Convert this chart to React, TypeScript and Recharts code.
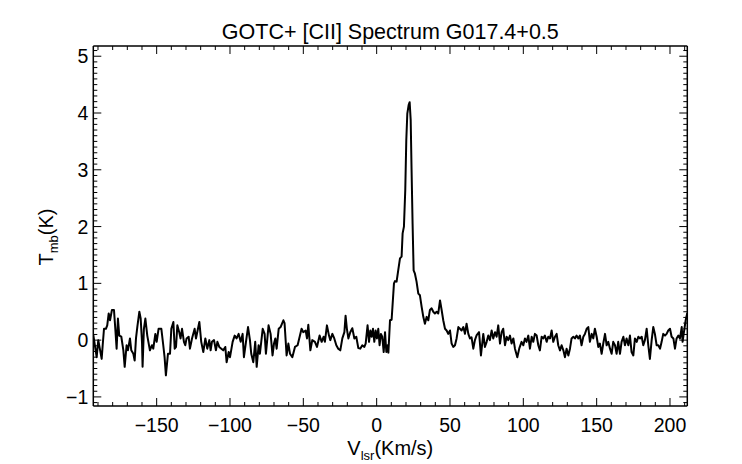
import { LineChart, Line, XAxis, YAxis, Label } from 'recharts'

// channel velocities (km/s) and main-beam temperatures (K)
const velocity = [
  // baseline, left
  -193.2, -190.9, -189.8, -187.5, -186.8, -185.9, -184.6, -183.7, -182.7, -181.8,
  -180.5, -179.1, -178.2, -177.3, -176.4, -175.5, -174.1, -172.7, -171.8, -170.5,
  -169.6, -168.2, -167.3, -165.9, -165.0, -164.1, -163.2, -161.8, -160.9, -160.0,
  -159.6, -158.7, -157.7, -156.4, -154.6, -153.2, -152.3, -150.9, -150.0, -148.7,
  -146.8, -145.5, -144.6, -143.7, -142.3, -140.9, -140.0, -138.6, -137.7, -136.8,
  -135.9, -134.6, -133.7, -132.7, -131.4, -130.5, -129.6, -128.2, -127.3, -125.9,
  -124.1, -123.2, -120.9, -119.6, -118.2, -116.8, -115.5, -114.1, -113.2, -112.3,
  -110.9, -109.6, -108.6, -107.3, -105.9, -104.6, -103.2, -102.3, -100.9, -100.0,
  -98.2, -96.8, -95.5, -94.1, -92.7, -91.4, -90.5, -89.1, -87.7, -86.4,
  -85.5, -84.1, -82.8, -81.8, -80.5, -79.6, -77.7, -76.4, -75.5, -73.7,
  -72.3, -71.0, -70.0, -69.1, -68.2, -66.8, -65.5, -63.6, -62.8,
  // baseline up to the line
  -61.4, -60.2, -59.1, -57.5, -55.7, -53.9, -52.3, -51.2, -50.0, -48.4,
  -47.5, -46.6, -45.2, -43.9, -42.1, -40.7, -38.9, -37.5, -36.2, -35.3,
  -33.9, -32.5, -31.6, -30.2, -28.9, -27.5, -26.2, -24.8, -23.4, -22.0,
  -21.2, -20.3, -19.3, -18.0, -16.6, -15.2, -13.9, -12.5, -11.2, -9.8,
  -8.4, -7.5, -6.2, -5.2, -4.3, -3.4, -2.5, -1.6, -0.7, 0.2,
  1.1, 2.0, 2.9, 3.8, 4.8, 5.7, 6.6, 7.5,
  // [CII] line and wing
  8.0, 9.1, 10.2, 11.8, 12.5, 13.6, 14.7, 15.9, 17.0, 17.7,
  18.6, 19.5, 20.2, 20.9, 21.8, 22.5, 23.2, 23.8, 24.5, 25.2,
  26.1, 27.2, 28.4, 29.5, 30.7, 31.8, 32.9, 34.1, 35.2, 36.3,
  37.5, 38.6, 39.7, 40.9, 42.0, 43.2, 44.3, 45.4, 46.6, 47.7,
  48.8, 50.0, 51.1, 52.2, 53.4, 54.5, 55.7, 56.8, 57.9, 59.1,
  60.2, 61.3, 62.5, 63.6, 64.7, 65.9, 67.0, 68.2,
  // baseline, right
  69.8, 71.1, 72.7, 73.8, 75.0, 76.1, 77.2, 78.4, 79.5, 80.7,
  81.8, 82.9, 84.1, 85.2, 86.3, 87.5, 88.6, 89.7, 90.9, 92.0,
  93.2, 94.3, 95.9, 97.2, 98.8, 100.0, 101.1, 102.2, 103.4, 104.5,
  105.7, 106.8, 107.9, 109.1, 110.2, 111.3, 112.5, 113.6, 114.7, 115.9,
  117.0, 118.2, 119.3, 120.4, 121.6, 122.7, 123.8, 125.0, 126.1, 127.3,
  128.4, 129.5, 130.7, 131.8, 132.9, 134.1, 135.2, 136.3, 137.5, 138.6,
  139.7, 140.9, 142.0, 143.2, 144.3, 145.4, 146.6, 147.7, 148.8, 150.0,
  151.1, 152.2, 153.4, 154.5, 155.7, 156.8, 157.9, 159.1, 160.2, 161.3,
  162.5, 163.6, 164.7, 165.9, 167.0, 168.2, 169.3, 170.4, 171.6, 172.7,
  173.8, 175.0, 176.1, 177.3, 178.4, 179.5, 180.7, 181.8, 182.9, 184.1,
  185.2, 186.3, 187.5, 188.6, 189.7, 190.9, 192.0, 193.2, 194.3, 195.4,
  196.6, 197.7, 198.8, 200.0, 201.1, 202.3, 203.4, 204.5, 205.7, 206.8,
  208.0, 208.6, 209.5, 210.7, 211.8,
]

const tmb = [
  0.09, -0.30, 0.0, -0.33, -0.09, 0.20, 0.20, 0.26, 0.47, 0.35,
  0.53, 0.53, 0.20, -0.15, 0.38, 0.08, 0.06, -0.18, -0.47, -0.09,
  -0.18, 0.03, -0.18, -0.24, -0.36, 0.03, 0.23, 0.50, 0.38, -0.03,
  -0.47, 0.20, 0.38, 0.08, -0.18, -0.09, -0.15, 0.11, -0.03, 0.20,
  0.20, -0.09, -0.30, -0.62, -0.24, -0.24, 0.20, 0.32, -0.15, -0.12,
  0.26, 0.14, 0.03, 0.20, -0.03, -0.09, 0.03, 0.06, -0.15, 0.03,
  0.20, 0.03, 0.32, -0.03, -0.21, 0.03, -0.15, 0.0, -0.18, -0.03,
  0.0, -0.18, -0.03, -0.12, -0.15, -0.18, -0.12, -0.39, -0.21, -0.30,
  -0.03, 0.08, 0.03, 0.11, -0.03, 0.11, -0.30, -0.03, 0.23, 0.0,
  -0.24, -0.39, -0.03, -0.47, -0.09, -0.24, 0.20, 0.11, -0.24, 0.26,
  0.11, -0.27, -0.06, 0.03, -0.15, 0.20, 0.23, 0.35, 0.30,

  -0.27, -0.06, -0.24, -0.30, -0.12, -0.09, 0.08, 0.20, 0.14, 0.17,
  0.03, 0.27, -0.18, 0.0, -0.03, -0.12, 0.08, -0.03, 0.06, -0.03,
  0.26, 0.08, 0.0, 0.11, 0.03, -0.09, -0.15, -0.18, 0.03, 0.14,
  0.43, 0.20, 0.03, 0.14, 0.21, 0.03, 0.06, -0.14, -0.15, -0.09,
  -0.12, -0.06, 0.26, -0.03, 0.17, 0.06, 0.20, -0.03, 0.17, 0.03,
  0.20, -0.09, 0.11, 0.06, -0.21, 0.14, -0.21, -0.09,

  -0.22, 0.35, 0.36, 1.00, 1.04, 1.03, 1.23, 1.44, 1.47, 1.88,
  2.00, 2.64, 3.52, 3.99, 4.14, 4.19, 3.88, 3.00, 2.05, 1.23,
  1.17, 1.03, 0.82, 0.79, 0.58, 0.41, 0.29, 0.41, 0.35, 0.53,
  0.56, 0.50, 0.47, 0.50, 0.47, 0.70, 0.53, 0.35, 0.20, 0.17,
  0.11, 0.17, -0.06, -0.12, -0.09, 0.03, 0.23, 0.20, 0.17, 0.23,
  0.11, 0.29, 0.11, 0.03, 0.05, -0.15, 0.0, 0.09,

  0.14, -0.27, 0.11, -0.12, -0.03, 0.08, 0.0, 0.17, 0.03, 0.14,
  0.06, 0.26, -0.06, 0.14, 0.20, -0.09, 0.06, 0.0, 0.08, -0.06,
  0.03, -0.15, -0.30, -0.15, -0.03, -0.09, 0.03, -0.03, 0.08, -0.15,
  0.06, -0.03, 0.11, 0.08, -0.09, -0.18, 0.06, 0.03, 0.08, -0.03,
  0.06, 0.03, 0.17, -0.03, 0.06, 0.11, -0.09, -0.18, -0.09, -0.18,
  -0.30, -0.15, -0.27, -0.15, 0.03, 0.06, 0.03, 0.08, 0.03, 0.08,
  -0.09, 0.06, 0.11, 0.20, 0.23, -0.03, 0.11, 0.03, 0.20, 0.06,
  -0.12, -0.06, -0.24, -0.06, 0.11, -0.09, -0.03, -0.15, -0.24, -0.03,
  -0.09, -0.24, -0.03, -0.24, -0.03, 0.06, -0.09, 0.03, -0.09, 0.08,
  -0.21, -0.27, 0.03, -0.03, 0.06, 0.03, 0.06, -0.09, 0.0, 0.20,
  -0.09, -0.33, 0.0, 0.23, 0.11, -0.09, -0.09, -0.15, -0.03, 0.11,
  0.08, 0.11, 0.17, 0.20, 0.06, 0.03, -0.15, 0.03, 0.08, 0.03,
  0.23, -0.03, 0.14, 0.35, 0.48,
]

const xMajor = [-150, -100, -50, 0, 50, 100, 150, 200]
const yMajor = [-1, 0, 1, 2, 3, 4, 5]
const xDomain = [-193.2, 211.8]
const yDomain = [-1.16, 5.18]

const data = velocity.map((v, i) => ({ v, t: tmb[i] }))

// minor ticks every 10 km/s and every 0.1 K
const xTicks = Array.from({ length: 41 }, (_, i) => -190 + i * 10)
const yTicks = Array.from({ length: 63 }, (_, i) => Math.round((-1.1 + i * 0.1) * 10) / 10)

const font = '"Liberation Sans", Arial, Helvetica, sans-serif'
const isMajor = (v: number, majors: number[]) => majors.some((m) => Math.abs(m - v) < 1e-6)
const fmt = (v: number) => (v < 0 ? `\u2212${Math.abs(v)}` : `${v}`)

function BottomTick({ x, y, payload }: any) {
  const major = isMajor(payload.value, xMajor)
  return (
    <g>
      <line x1={x} x2={x} y1={y} y2={y - (major ? 8 : 4)} stroke="#000" strokeWidth={1} />
      {major && (
        <text x={x} y={y + 25.5} textAnchor="middle" fontSize={19.5} fontFamily={font} fill="#000">
          {fmt(payload.value)}
        </text>
      )}
    </g>
  )
}

function TopTick({ x, y, payload }: any) {
  const major = isMajor(payload.value, xMajor)
  return <line x1={x} x2={x} y1={y} y2={y + (major ? 8 : 4)} stroke="#000" strokeWidth={1} />
}

function LeftTick({ x, y, payload }: any) {
  const major = isMajor(payload.value, yMajor)
  return (
    <g>
      <line x1={x} x2={x + (major ? 8 : 4)} y1={y} y2={y} stroke="#000" strokeWidth={1} />
      {major && (
        <text x={x - 5} y={y + 7} textAnchor="end" fontSize={19.5} fontFamily={font} fill="#000">
          {fmt(payload.value)}
        </text>
      )}
    </g>
  )
}

function RightTick({ x, y, payload }: any) {
  const major = isMajor(payload.value, yMajor)
  return <line x1={x} x2={x - (major ? 8 : 4)} y1={y} y2={y} stroke="#000" strokeWidth={1} />
}

const axisLine = { stroke: '#000', strokeWidth: 1.5 }

export default function App() {
  return (
    <>
      <style>{'body{margin:0}'}</style>
      <LineChart width={742} height={464} data={data} margin={{ top: 36, right: 44.7, bottom: 28, left: 0 }}>
        <XAxis
          dataKey="v" type="number" domain={xDomain} allowDataOverflow ticks={xTicks} interval={0}
          height={30} tickSize={0} tickMargin={0} tickLine={false} axisLine={axisLine} tick={<BottomTick />}
        >
          <Label
            content={({ viewBox }: any) => (
              <text
                x={(viewBox?.x ?? 93.3) + (viewBox?.width ?? 594) / 2} y={(viewBox?.y ?? 406) + 49}
                textAnchor="middle" fontSize={20} fontFamily={font} fill="#000"
              >
                V<tspan fontSize={13} dy={5}>lsr</tspan><tspan dy={-5}>(Km/s)</tspan>
              </text>
            )}
          />
        </XAxis>
        <XAxis
          xAxisId="top" orientation="top" dataKey="v" type="number" domain={xDomain} allowDataOverflow
          ticks={xTicks} interval={0} height={10} tickSize={0} tickMargin={0} tickLine={false}
          axisLine={axisLine} tick={<TopTick />}
        >
          <Label
            content={({ viewBox }: any) => (
              <text
                x={(viewBox?.x ?? 93.3) + (viewBox?.width ?? 594) / 2} y={39}
                textAnchor="middle" fontSize={21.5} fontFamily={font} fill="#000"
              >
                GOTC+ [CII] Spectrum G017.4+0.5
              </text>
            )}
          />
        </XAxis>
        <YAxis
          type="number" domain={yDomain} allowDataOverflow ticks={yTicks} interval={0} width={93.3}
          tickSize={0} tickMargin={0} tickLine={false} axisLine={axisLine} tick={<LeftTick />}
        >
          <Label
            content={() => (
              <text x={53} y={237} transform="rotate(-90 53 237)" textAnchor="middle" fontSize={20} fontFamily={font} fill="#000">
                T<tspan fontSize={13} dy={5}>mb</tspan><tspan dy={-5}>(K)</tspan>
              </text>
            )}
          />
        </YAxis>
        <YAxis
          yAxisId="r" orientation="right" type="number" domain={yDomain} allowDataOverflow ticks={yTicks}
          interval={0} width={10} tickSize={0} tickMargin={0} tickLine={false} axisLine={axisLine}
          tick={<RightTick />}
        />
        <Line
          dataKey="t" type="linear" stroke="#000" strokeWidth={2} dot={false}
          isAnimationActive={false} strokeLinejoin="round"
        />
      </LineChart>
    </>
  )
}
